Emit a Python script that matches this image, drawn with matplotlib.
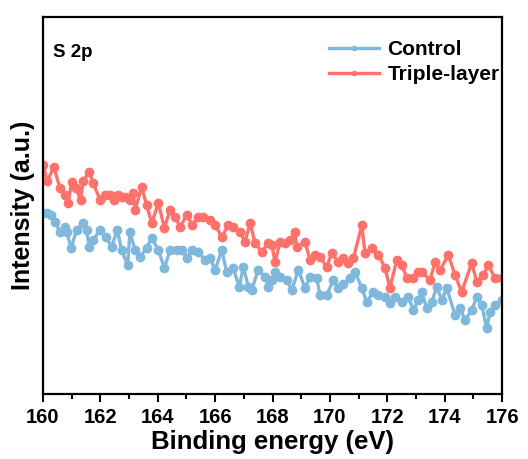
import numpy as np
import matplotlib
matplotlib.use("Agg")
import matplotlib.pyplot as plt

# data (binding energy in eV, intensity in a.u.)
control_energy = [160.00, 160.13, 160.27, 160.42, 160.59, 160.77, 160.83, 160.98, 161.17, 161.40,
                  161.52, 161.61, 161.75, 161.99, 162.20, 162.39, 162.59, 162.74, 162.95, 163.03,
                  163.21, 163.38, 163.61, 163.79, 164.02, 164.23, 164.43, 164.66, 164.83, 165.01,
                  165.20, 165.41, 165.65, 165.82, 166.00, 166.23, 166.40, 166.63, 166.84, 166.98,
                  167.16, 167.27, 167.50, 167.74, 167.85, 167.97, 168.09, 168.26, 168.49, 168.67,
                  168.90, 169.13, 169.31, 169.54, 169.65, 169.89, 170.12, 170.29, 170.47, 170.71,
                  170.88, 171.11, 171.28, 171.51, 171.69, 171.92, 172.09, 172.27, 172.50, 172.73,
                  172.91, 173.08, 173.20, 173.37, 173.55, 173.72, 173.90, 174.07, 174.36, 174.53,
                  174.71, 174.94, 175.12, 175.29, 175.46, 175.58, 175.75, 175.99]
control_int = [181, 181, 179, 172, 162, 167, 162, 146, 164, 171,
               164, 147, 154, 164, 157, 147, 164, 144, 129, 162,
               144, 137, 146, 156, 144, 126, 144, 144, 144, 136,
               144, 142, 134, 136, 124, 144, 122, 126, 107, 127,
               107, 104, 124, 117, 107, 114, 122, 117, 114, 104,
               124, 106, 117, 116, 99, 99, 114, 106, 110, 116,
               122, 106, 92, 102, 99, 97, 91, 97, 92, 97,
               84, 94, 102, 86, 92, 107, 94, 106, 79, 86,
               74, 84, 97, 89, 66, 82, 89, 94]

triple_energy = [160.00, 160.15, 160.38, 160.59, 160.77, 160.88, 161.00, 161.15, 161.31, 161.40,
                 161.61, 161.75, 161.99, 162.16, 162.34, 162.47, 162.61, 162.74, 162.86, 163.03,
                 163.14, 163.21, 163.44, 163.61, 163.79, 164.02, 164.23, 164.43, 164.60, 164.78,
                 165.01, 165.20, 165.41, 165.59, 165.82, 166.00, 166.23, 166.46, 166.63, 166.87,
                 167.04, 167.22, 167.39, 167.62, 167.85, 167.97, 168.09, 168.26, 168.43, 168.61,
                 168.78, 168.84, 169.13, 169.31, 169.48, 169.65, 169.89, 170.06, 170.29, 170.47,
                 170.64, 170.82, 171.11, 171.22, 171.46, 171.69, 171.92, 172.09, 172.33, 172.50,
                 172.68, 172.91, 173.08, 173.20, 173.49, 173.66, 173.84, 174.13, 174.36, 174.59,
                 174.94, 175.12, 175.35, 175.52, 175.75, 175.99]
triple_int = [229, 213, 227, 206, 199, 191, 212, 206, 194, 213,
              222, 211, 194, 199, 199, 194, 199, 197, 197, 194,
              201, 184, 207, 189, 171, 191, 166, 184, 177, 167,
              179, 169, 177, 177, 174, 169, 157, 169, 167, 162,
              152, 171, 151, 142, 151, 149, 132, 152, 151, 154,
              162, 147, 152, 134, 139, 137, 127, 141, 132, 136,
              131, 136, 169, 141, 146, 139, 126, 106, 134, 129,
              116, 116, 122, 122, 114, 132, 124, 139, 119, 102,
              131, 112, 119, 129, 116, 116]

plt.rcParams['font.family'] = ['Liberation Sans', 'DejaVu Sans']
plt.rcParams['font.weight'] = 'bold'

fig = plt.figure(figsize=(5.28, 4.59), dpi=100)
ax = fig.add_axes([0.0814, 0.1416, 0.8696, 0.8214])

ax.plot(control_energy, control_int, color="#7fb8dc", lw=2.4, marker="o", ms=6,
        label="Control")
ax.plot(triple_energy, triple_int, color="#ff716b", lw=2.4, marker="o", ms=6,
        label="Triple-layer")

ax.set_xlim(160, 176)
ax.set_ylim(0, 377)
ax.set_xticks(np.arange(160, 177, 2))
ax.set_xticks(np.arange(161, 176, 2), minor=True)
ax.set_yticks([])
ax.tick_params(axis="x", which="major", direction="out", length=6, width=1.5,
               labelsize=14.5, pad=4)
ax.tick_params(axis="x", which="minor", direction="out", length=3.5, width=1.5)
for lbl in ax.get_xticklabels():
    lbl.set_fontweight("bold")
for s in ax.spines.values():
    s.set_linewidth(1.6)

ax.set_xlabel("Binding energy (eV)", fontsize=18.5, fontweight="bold", labelpad=2)
ax.set_ylabel("Intensity (a.u.)", fontsize=18, fontweight="bold", labelpad=6)
ax.text(0.022, 0.895, "S 2p", transform=ax.transAxes, fontsize=13.5, fontweight="bold")

leg = ax.legend(loc="upper right", bbox_to_anchor=(1.008, 0.955), frameon=False,
                fontsize=15, markerscale=0.5, handlelength=2.4, borderaxespad=0,
                labelspacing=0.3, handletextpad=0.4, borderpad=0.3)

fig.savefig("out.png", dpi=100)
